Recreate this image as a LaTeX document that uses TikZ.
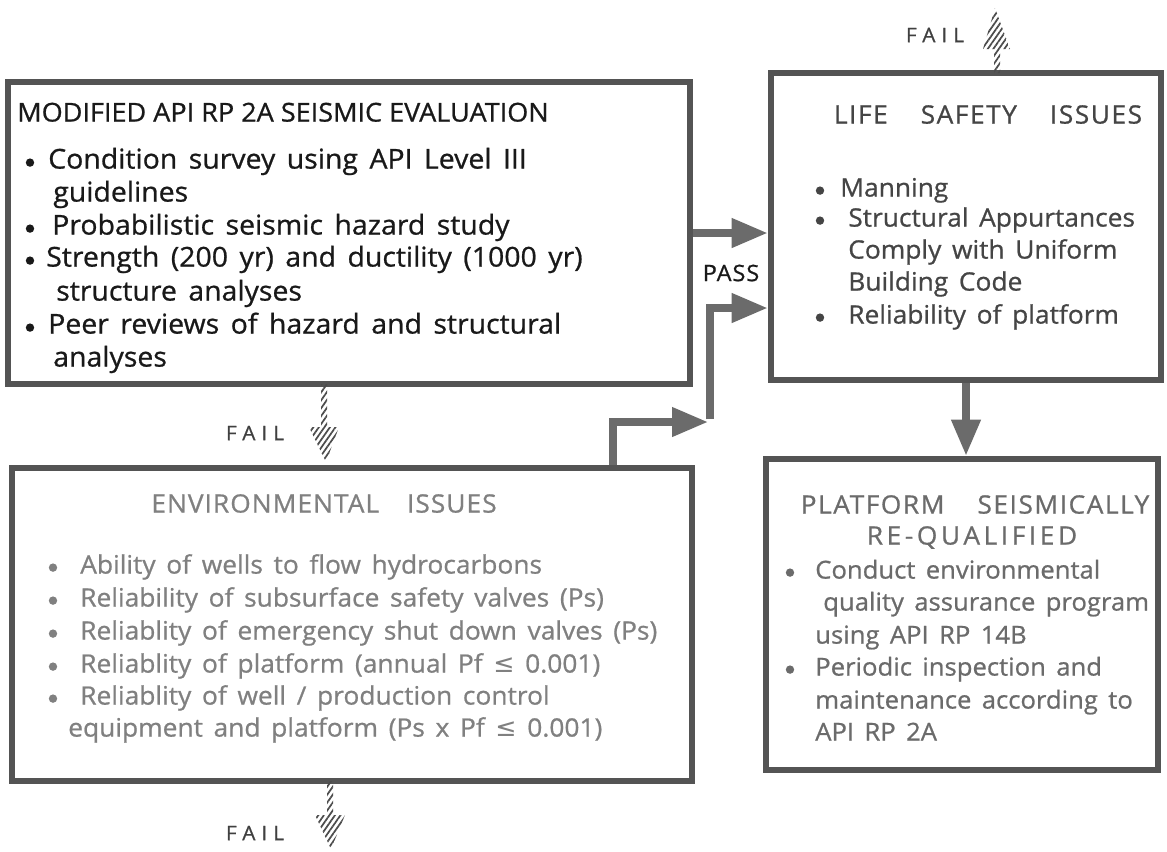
\documentclass[tikz,border=0pt]{standalone}
\usepackage{fontspec}
\setmainfont{Open Sans}[FakeStretch=1.04, FakeBold=0.8]
\newfontfamily\symfont{DejaVu Sans}
\usetikzlibrary{arrows.meta,patterns.meta,fit}

\definecolor{frame}{gray}{0.33}
\definecolor{arrowgray}{gray}{0.42}
\definecolor{txtA}{gray}{0.1}
\definecolor{txtB}{gray}{0.27}
\definecolor{txtC}{gray}{0.5}
\definecolor{txtD}{gray}{0.42}

\newcommand{\leqsym}{{\symfont ≤}}
\newcommand{\widespace}{\spaceskip=0.42em plus 0.1em\relax}

\tikzset{
  panel/.style={draw=frame, line width=5pt, inner sep=0pt},
  txt/.style={anchor=mid west, inner sep=0pt},
  ctr/.style={anchor=mid, inner sep=0pt},
  fontA/.style={font=\fontsize{20.5}{24}\selectfont\widespace},
  fontB/.style={font=\fontsize{19}{22}\selectfont\widespace},
  fontC/.style={font=\fontsize{19}{22}\selectfont\widespace},
  fontD/.style={font=\fontsize{18.5}{22}\selectfont\widespace},
  headB/.style={font=\fontsize{19}{22}\selectfont\addfontfeature{LetterSpace=6}},
  headWide/.style={font=\fontsize{19}{22}\selectfont\addfontfeature{LetterSpace=14}},
  bul/.style={circle, fill, inner sep=0pt, minimum size=6.3pt, yshift=1.8pt},
  flow/.style={draw=arrowgray, line width=5.5pt, -{Triangle[length=27pt,width=21pt]}},
  hatch/.style={pattern={Lines[angle=55,distance=3.4pt,line width=1.3pt]}, pattern color=black!70},
  tag/.style={inner sep=0pt, font=\fontsize{15}{18}\selectfont\addfontfeature{LetterSpace=30}, text=black!75}
}

\begin{document}
\begin{tikzpicture}[x=0.75pt, y=-0.75pt]
\useasboundingbox (0,0) rectangle (1167,851);

% panel corners
\coordinate (a1) at (8,82);    \coordinate (a2) at (690,384);
\coordinate (l1) at (771,73);  \coordinate (l2) at (1161,380);
\coordinate (e1) at (12,468);  \coordinate (e2) at (692,781);
\coordinate (q1) at (766,459); \coordinate (q2) at (1158,770);

\node[panel, fit=(a1)(a2)] (api) {};
\node[panel, fit=(l1)(l2)] (life) {};
\node[panel, fit=(e1)(e2)] (env) {};
\node[panel, fit=(q1)(q2)] (plat) {};

% seismic evaluation panel
\begin{scope}[every node/.append style={text=txtA, fontA}]
\node[txt, font=\fontsize{19.5}{24}\selectfont] (apiT) at (17,118) {MODIFIED API RP 2A SEISMIC EVALUATION};
\node[bul, txtA] (apiB1) at (30,165) {};
\node[txt] (apiL1) at (48,165) {Condition survey using API Level III};
\node[txt] (apiL2) at (53,198) {guidelines};
\node[bul, txtA] (apiB2) at (30,231) {};
\node[txt] (apiL3) at (52,231) {Probabilistic seismic hazard study};
\node[bul, txtA] (apiB3) at (30,263) {};
\node[txt] (apiL4) at (46,263) {Strength (200 yr) and ductility (1000 yr)};
\node[txt] (apiL5) at (56,297) {structure analyses};
\node[bul, txtA] (apiB4) at (30,330) {};
\node[txt] (apiL6) at (48,330) {Peer reviews of hazard and structural};
\node[txt] (apiL7) at (53,363) {analyses};
\end{scope}

% life safety panel
\begin{scope}[every node/.append style={text=txtB, fontB}]
\node[ctr, headB] (lifeT) at (988,120) {LIFE\hspace{1.3em}SAFETY\hspace{1.3em}ISSUES};
\node[bul, txtB] (lifeB1) at (820,193) {};
\node[txt] (lifeL1) at (840,193) {Manning};
\node[bul, txtB] (lifeB2) at (820,223) {};
\node[txt] (lifeL2) at (848,223) {Structural Appurtances};
\node[txt] (lifeL3) at (848,255) {Comply with Uniform};
\node[txt] (lifeL4) at (848,287) {Building Code};
\node[bul, txtB] (lifeB3) at (820,320) {};
\node[txt] (lifeL5) at (848,320) {Reliability of platform};
\end{scope}

% environmental panel
\begin{scope}[every node/.append style={text=txtC, fontC}]
\node[ctr, font=\fontsize{19}{22}\selectfont\addfontfeature{LetterSpace=4}] (envT) at (324,509) {ENVIRONMENTAL\hspace{1.1em}ISSUES};
\node[bul, txtC] (envB1) at (53,570) {};
\node[txt] (envL1) at (80,570) {Ability of wells to flow hydrocarbons};
\node[bul, txtC] (envB2) at (53,603) {};
\node[txt] (envL2) at (80,603) {Reliability of subsurface safety valves (Ps)};
\node[bul, txtC] (envB3) at (53,636) {};
\node[txt] (envL3) at (80,636) {Reliablity of emergency shut down valves (Ps)};
\node[bul, txtC] (envB4) at (53,669) {};
\node[txt] (envL4) at (80,669) {Reliablity of platform (annual Pf \leqsym{} 0.001)};
\node[bul, txtC] (envB5) at (53,701) {};
\node[txt] (envL5) at (80,701) {Reliablity of well / production control};
\node[txt] (envL6) at (68,733) {equipment and platform (Ps x Pf \leqsym{} 0.001)};
\end{scope}

% requalified panel
\begin{scope}[every node/.append style={text=txtD, fontD}]
\node[ctr, headB] (platT1) at (975,510) {PLATFORM\hspace{1.3em}SEISMICALLY};
\node[ctr, headWide] (platT2) at (972,541) {RE-QUALIFIED};
\node[bul, txtD] (platB1) at (790,575) {};
\node[txt] (platL1) at (815,575) {Conduct environmental};
\node[txt] (platL2) at (823,607) {quality assurance program};
\node[txt] (platL3) at (815,640) {using API RP 14B};
\node[bul, txtD] (platB2) at (790,672) {};
\node[txt] (platL4) at (815,672) {Periodic inspection and};
\node[txt] (platL5) at (815,705) {maintenance according to};
\node[txt] (platL6) at (815,737) {API RP 2A};
\end{scope}

% pass connectors
\draw[flow] (api.east) -- (api.east -| life.west);
\coordinate (k1) at (613,422);
\coordinate (k2) at (710,422);
\coordinate (k3) at (710,308);
\draw[flow] (env.north -| k1) -- (k1) -- ([xshift=-1.5pt]k2);
\draw[flow] ([yshift=2pt]k2) -- (k3) -- (k3 -| life.west);
\draw[flow] (life.south) -- (life.south |- plat.north);
\node[inner sep=0pt, text=txtA, font=\fontsize{17}{20}\selectfont\addfontfeature{LetterSpace=4}] (pass) at (731,273) {PASS};

% fail exits (hatched arrows)
\coordinate (f1) at (997,73);
\fill[hatch] (f1) ++(-3,0) -- ++(0,-24) -- ++(-11,0) -- (995,8) -- (1010,49) -- ++(-10,0) -- ++(0,24) -- cycle;
\node[tag] (fail1) at (935,35) {FAIL};

\coordinate (f2) at (324,384);
\fill[hatch] (f2) ++(-3,0) -- ++(0,43) -- ++(-12,0) -- (326,462) -- (339,427) -- ++(-12,0) -- ++(0,-43) -- cycle;
\node[tag] (fail2) at (255,433) {FAIL};

\coordinate (f3) at (330,781);
\fill[hatch] (f3) ++(-3,0) -- ++(0,34) -- ++(-12,0) -- (331,849) -- (345,815) -- ++(-12,0) -- ++(0,-34) -- cycle;
\node[tag] (fail3) at (255,833) {FAIL};
\end{tikzpicture}
\end{document}
